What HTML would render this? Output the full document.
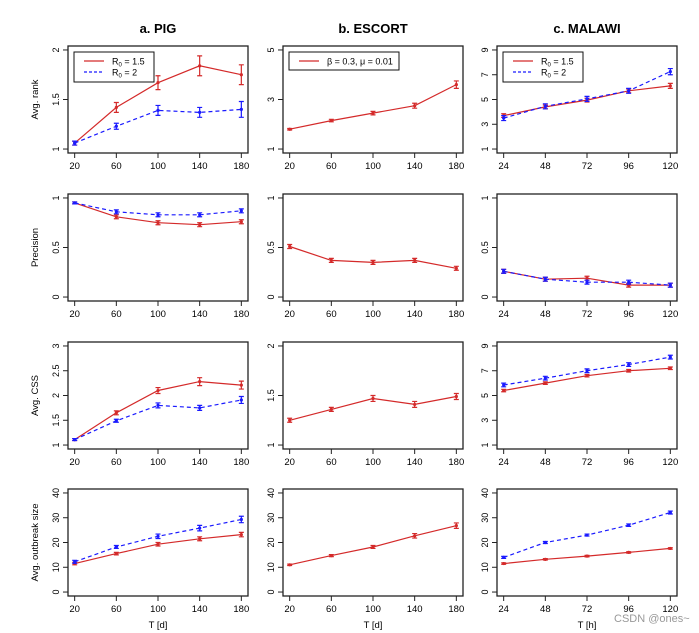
<!DOCTYPE html>
<html><head><meta charset="utf-8">
<style>
html,body{margin:0;padding:0;background:#fff;}
svg{display:block;font-family:"Liberation Sans",sans-serif;}
</style></head>
<body>
<svg id="fig" width="699" height="633" viewBox="0 0 699 633" xmlns="http://www.w3.org/2000/svg">
<text x="158" y="33" font-size="13" font-weight="bold" text-anchor="middle">a. PIG</text>
<text x="373" y="33" font-size="13" font-weight="bold" text-anchor="middle">b. ESCORT</text>
<text x="587" y="33" font-size="13" font-weight="bold" text-anchor="middle">c. MALAWI</text>
<text x="614" y="622" font-size="11" fill="#999">CSDN @ones~</text>
</svg>
<script>
const tDays = [20,60,100,140,180];
const tHours = [24,48,72,96,120];
const yTitles = ["Avg. rank","Precision","Avg. CSS","Avg. outbreak size"];
// PIG
const pigRankR15 = [1.06,1.42,1.67,1.84,1.75];
const pigRankR15Err = [0.02,0.05,0.07,0.1,0.1];
const pigRankR2 = [1.06,1.23,1.39,1.37,1.40];
const pigRankR2Err = [0.02,0.03,0.05,0.05,0.08];
const pigPrecR15 = [0.95,0.81,0.75,0.73,0.76];
const pigPrecR15Err = [0.01,0.02,0.02,0.02,0.02];
const pigPrecR2 = [0.95,0.86,0.83,0.83,0.87];
const pigPrecR2Err = [0.01,0.02,0.02,0.02,0.02];
const pigCssR15 = [1.11,1.65,2.1,2.28,2.21];
const pigCssR15Err = [0.02,0.04,0.06,0.08,0.08];
const pigCssR2 = [1.11,1.49,1.8,1.75,1.91];
const pigCssR2Err = [0.02,0.03,0.05,0.05,0.07];
const pigSizeR15 = [11.5,15.5,19.3,21.5,23.2];
const pigSizeR15Err = [0.5,0.5,0.7,0.8,0.9];
const pigSizeR2 = [12.2,18.2,22.5,25.8,29.3];
const pigSizeR2Err = [0.6,0.6,0.9,1.1,1.3];
// ESCORT
const escRank = [1.8,2.15,2.45,2.75,3.6];
const escRankErr = [0.03,0.05,0.07,0.1,0.15];
const escPrec = [0.51,0.37,0.35,0.37,0.29];
const escPrecErr = [0.02,0.02,0.02,0.02,0.02];
const escCss = [1.25,1.36,1.47,1.41,1.49];
const escCssErr = [0.02,0.02,0.03,0.03,0.03];
const escSize = [11,14.7,18.2,22.7,26.8];
const escSizeErr = [0.3,0.4,0.6,0.9,1.1];
// MALAWI
const malRankR15 = [3.7,4.4,4.95,5.7,6.1];
const malRankR15Err = [0.15,0.15,0.15,0.15,0.2];
const malRankR2 = [3.5,4.45,5.05,5.7,7.25];
const malRankR2Err = [0.2,0.2,0.2,0.2,0.25];
const malPrecR15 = [0.26,0.18,0.19,0.12,0.12];
const malPrecR15Err = [0.02,0.02,0.02,0.02,0.02];
const malPrecR2 = [0.26,0.18,0.15,0.15,0.12];
const malPrecR2Err = [0.02,0.02,0.02,0.02,0.02];
const malCssR15 = [5.4,6.0,6.6,7.0,7.2];
const malCssR15Err = [0.1,0.1,0.1,0.1,0.1];
const malCssR2 = [5.85,6.4,7.0,7.5,8.1];
const malCssR2Err = [0.15,0.15,0.15,0.15,0.15];
const malSizeR15 = [11.5,13.2,14.5,16,17.6];
const malSizeR15Err = [0.3,0.3,0.3,0.3,0.3];
const malSizeR2 = [14,20,23,27,32.1];
const malSizeR2Err = [0.4,0.4,0.4,0.5,0.6];

const svg = document.getElementById('fig');
const NS = 'http://www.w3.org/2000/svg';
function mk(tag, attrs, parent){
  const e = document.createElementNS(NS, tag);
  for (const k in attrs) e.setAttribute(k, attrs[k]);
  (parent||svg).appendChild(e);
  return e;
}
const colX = [68,283,497];
const rowY = [46,194,342,489];
const W = 180, H = 107;
const RED = '#d42a2a', BLUE = '#1a1aff';

function panel(col,row,xs,ymin,ymax,yticks,series,legend){
  const g = mk('g',{});
  
  
  const L = colX[col], T = rowY[row];
  const xmin = xs[0], xmax = xs[xs.length-1];
  const xr = (xmax-xmin)*0.04, yr = (ymax-ymin)*0.04;
  const sx = v => L + (v-(xmin-xr))/((xmax+xr)-(xmin-xr))*W;
  const sy = v => T + H - (v-(ymin-yr))/((ymax+yr)-(ymin-yr))*H;
  // series
  series.forEach(s=>{
    const pts = s.vals.map((v,i)=>sx(xs[i]).toFixed(1)+','+sy(v).toFixed(1)).join(' ');
    const pl = mk('polyline',{points:pts,fill:'none',stroke:s.color,'stroke-width':1.2,'stroke-dasharray':s.dash?'4,3':'none'},g);
    
    
    s.vals.forEach((v,i)=>{
      const x = sx(xs[i]), y1 = sy(v - s.err[i]), y2 = sy(v + s.err[i]);
      const eb = mk('path',{d:`M${x},${y1}V${y2}M${x-2.5},${y1}H${x+2.5}M${x-2.5},${y2}H${x+2.5}`,stroke:s.color,'stroke-width':1.2,fill:'none'},g);
      
      
      const pt = mk('circle',{cx:x,cy:sy(v),r:1.6,fill:s.color},g);
      
      
    });
  });
  mk('rect',{x:L,y:T,width:W,height:H,fill:'none',stroke:'#222','stroke-width':1.3},g);
  // y axis
  yticks.forEach(t=>{
    const y = sy(t);
    mk('line',{x1:L-5,x2:L,y1:y,y2:y,stroke:'#222'},g);
    const tx = mk('text',{x:0,y:0,'font-size':9,'text-anchor':'middle',transform:`translate(${L-9},${y}) rotate(-90)`},g);
    tx.textContent = String(t);
    
    
  });
  // x axis
  xs.forEach(t=>{
    const x = sx(t);
    mk('line',{x1:x,x2:x,y1:T+H,y2:T+H+5,stroke:'#222'},g);
    const tx = mk('text',{x:x,y:T+H+16,'font-size':9.5,'text-anchor':'middle'},g);
    tx.textContent = String(t);
    
    
  });
  if (col===0){
    const yt = mk('text',{x:0,y:0,'font-size':9.5,'text-anchor':'middle',transform:`translate(${L-30},${T+H/2}) rotate(-90)`},g);
    yt.textContent = yTitles[row];
    
    
  }
  if (row===3){
    const xt = mk('text',{x:L+W/2,y:T+H+32,'font-size':9.5,'text-anchor':'middle'},g);
    xt.textContent = col===2 ? 'T [h]' : 'T [d]';
    
    
  }
  if (legend){
    const lg = mk('g',{},g);
    
    
    mk('rect',{x:L+6,y:T+6,width:legend.w,height:legend.items.length*12+6,fill:'#fff',stroke:'#111','stroke-width':1},lg);
    legend.items.forEach((it,i)=>{
      const y = T+15+i*11;
      mk('line',{x1:L+16,x2:L+36,y1:y,y2:y,stroke:it.color,'stroke-width':1.2,'stroke-dasharray':it.dash?'3,2':'none'},lg);
      const tx = mk('text',{x:L+44,y:y+3.5,'font-size':9},lg);
      tx.innerHTML = it.label;
      
      
    });
  }
}
const rLeg = {w:80,items:[{color:RED,label:'R<tspan font-size="6" dy="2">0</tspan><tspan dy="-2"> = 1.5</tspan>'},{color:BLUE,dash:true,label:'R<tspan font-size="6" dy="2">0</tspan><tspan dy="-2"> = 2</tspan>'}]};
const eLeg = {w:110,items:[{color:RED,label:'β = 0.3, μ = 0.01'}]};
const S = (name,vals,err,color,dash)=>({name,vals,err,color,dash});

panel(0,0,tDays,1,2,[1,1.5,2],[S('pig-rank-r15',pigRankR15,pigRankR15Err,RED),S('pig-rank-r2',pigRankR2,pigRankR2Err,BLUE,true)],rLeg);
panel(0,1,tDays,0,1,[0,0.5,1],[S('pig-prec-r15',pigPrecR15,pigPrecR15Err,RED),S('pig-prec-r2',pigPrecR2,pigPrecR2Err,BLUE,true)]);
panel(0,2,tDays,1,3,[1,1.5,2,2.5,3],[S('pig-css-r15',pigCssR15,pigCssR15Err,RED),S('pig-css-r2',pigCssR2,pigCssR2Err,BLUE,true)]);
panel(0,3,tDays,0,40,[0,10,20,30,40],[S('pig-size-r15',pigSizeR15,pigSizeR15Err,RED),S('pig-size-r2',pigSizeR2,pigSizeR2Err,BLUE,true)]);

panel(1,0,tDays,1,5,[1,3,5],[S('escort-rank',escRank,escRankErr,RED)],eLeg);
panel(1,1,tDays,0,1,[0,0.5,1],[S('escort-prec',escPrec,escPrecErr,RED)]);
panel(1,2,tDays,1,2,[1,1.5,2],[S('escort-css',escCss,escCssErr,RED)]);
panel(1,3,tDays,0,40,[0,10,20,30,40],[S('escort-size',escSize,escSizeErr,RED)]);

panel(2,0,tHours,1,9,[1,3,5,7,9],[S('malawi-rank-r15',malRankR15,malRankR15Err,RED),S('malawi-rank-r2',malRankR2,malRankR2Err,BLUE,true)],rLeg);
panel(2,1,tHours,0,1,[0,0.5,1],[S('malawi-prec-r15',malPrecR15,malPrecR15Err,RED),S('malawi-prec-r2',malPrecR2,malPrecR2Err,BLUE,true)]);
panel(2,2,tHours,1,9,[1,3,5,7,9],[S('malawi-css-r15',malCssR15,malCssR15Err,RED),S('malawi-css-r2',malCssR2,malCssR2Err,BLUE,true)]);
panel(2,3,tHours,0,40,[0,10,20,30,40],[S('malawi-size-r15',malSizeR15,malSizeR15Err,RED),S('malawi-size-r2',malSizeR2,malSizeR2Err,BLUE,true)]);
</script>
</body></html>
